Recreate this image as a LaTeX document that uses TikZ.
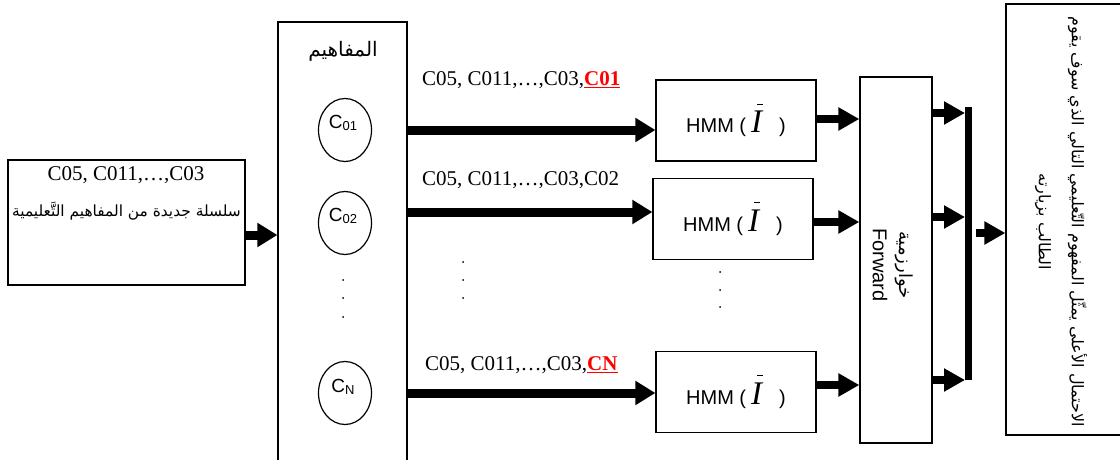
\documentclass[tikz,border=0pt]{standalone}
\usepackage{fontspec}
\setmainfont{Liberation Serif}
\newfontfamily\arial{Liberation Sans}
\newfontfamily\arabicfont[Script=Arabic]{DejaVu Sans}
\TeXXeTstate=1
\usetikzlibrary{arrows.meta,shapes.geometric}
\newcommand{\Ibar}{\makebox[0pt][l]{\hspace{6pt}\rule[28pt]{6pt}{1pt}}{\fontsize{33}{33}\selectfont\itshape I}}
\newcommand{\hmmtext}{{\arial HMM (\hspace{5pt}}\Ibar{\arial\hspace{17pt})}}
\newcommand{\cl}[1]{{\arial C\raisebox{-2pt}{\fontsize{13}{13}\selectfont #1}}}
\begin{document}
\begin{tikzpicture}[x=1pt,y=-1pt,
  box/.style={draw, line width=1.2pt, inner sep=0pt},
  big/.style={line width=9pt, -{Triangle[length=20pt,width=23pt]}},
  small/.style={line width=8pt, -{Triangle[length=21pt,width=22pt]}},
  seq/.style={font=\fontsize{21}{24}\selectfont, inner sep=0pt, anchor=west},
  cpt/.style={draw, ellipse, line width=1.2pt, minimum width=53pt, minimum height=63pt, inner sep=0pt},
  hmm/.style={box, minimum width=160pt, minimum height=81pt, font=\fontsize{20}{24}\selectfont},
  ar/.style={inner sep=0pt, font=\arabicfont\fontsize{#1}{#1}\selectfont},
  dotc/.style={fill=black}
]
\useasboundingbox (0,0) rectangle (1120,460);
\clip (0,0) rectangle (1120,460);

% left box
\node[box, minimum width=237pt, minimum height=125pt] (lbox) at (126.5,222.5) {};
\node[inner sep=0pt, font=\fontsize{21}{24}\selectfont] (lseq) at (126,175) {C05, C011,…,C03};
\node[ar=15.4] (ltxt) at (126.5,211) {\beginR سلسلة جديدة من المفاهيم التَّعليمية\endR};

% concepts box
\node[box, minimum width=129pt, minimum height=450pt] (cbox) at (342.5,247) {};
\node[ar=20] (ctitle) at (343,51) {\beginR المفاهيم\endR};
\node[cpt] (c1) at (345,130) {};
\node[cpt] (c2) at (345,223) {};
\node[cpt] (cn) at (345,393) {};
\node[inner sep=0pt, font=\fontsize{19}{19}\selectfont] (c1l) at (343,123) {\cl{01}};
\node[inner sep=0pt, font=\fontsize{19}{19}\selectfont] (c2l) at (343,216) {\cl{02}};
\node[inner sep=0pt, font=\fontsize{19}{19}\selectfont] (cnl) at (343,387) {\cl{N}};
\foreach \yy in {280,298,317} \fill[dotc] (343,\yy) circle (1pt);

% sequences
\node[seq] (s1) at (422,80) {C05, C011,…,C03,{\color{red}\underline{\textbf{C01}}}};
\node[seq] (s2) at (422,180) {C05, C011,…,C03,C02};
\node[seq] (s3) at (425,365) {C05, C011,…,C03,{\color{red}\underline{\textbf{CN}}}};
\foreach \yy in {262,280,298} \fill[dotc] (463,\yy) circle (1pt);

% HMM boxes
\node[hmm] (h1) at (736,120.5) {\hmmtext};
\node[hmm] (h2) at (733,219) {\hmmtext};
\node[hmm] (h3) at (736,392) {\hmmtext};
\foreach \yy in {272,290,307} \fill[dotc] (720,\yy) circle (1pt);

% Forward box
\node[box, minimum width=72pt, minimum height=366pt] (fwd) at (896,260) {};
\node[rotate=-90, align=center, inner sep=0pt, font=\arial\fontsize{20}{27}\selectfont] (fwdt) at (893,265)
  {{\arabicfont\fontsize{18}{18}\selectfont\beginR خوارزمية\endR}\\Forward};

% right box
\node[box, minimum width=119pt, minimum height=431pt] (rbox) at (1065.5,219.5) {};
\node[rotate=-90, align=center, inner sep=0pt, font=\arabicfont\fontsize{16}{33}\selectfont] (rtxt) at (1061,222)
  {\beginR الاحتمال الأعلى يمثّل المفهوم التّعليمي التالي الذي سوف يقوم\endR\\\beginR الطالب بزيارته\endR};

% connectors
\coordinate (p0) at (245,235);
\draw[big] (p0) -- (p0 -| cbox.west);
\coordinate (q1) at (407,130);
\coordinate (q2) at (407,212);
\coordinate (q3) at (407,393);
\draw[big] (q1) -- (q1 -| h1.west);
\draw[big] (q2) -- (q2 -| h2.west);
\draw[big] (q3) -- (q3 -| h3.west);
\coordinate (o1) at (816,119);
\coordinate (o2) at (813,222);
\coordinate (o3) at (816,385);
\draw[small] (o1) -- (o1 -| fwd.west);
\draw[small] (o2) -- (o2 -| fwd.west);
\draw[small] (o3) -- (o3 -| fwd.west);
\coordinate (bt) at (968.5,107);
\coordinate (bb) at (968.5,380);
\coordinate (bl) at (965,107);
\draw[line width=7pt] (bt) -- (bb);
\coordinate (f1) at (932,113);
\coordinate (f2) at (932,217);
\coordinate (f3) at (932,380);
\draw[small] (f1) -- (f1 -| bl);
\draw[small] (f2) -- (f2 -| bl);
\draw[small] (f3) -- (f3 -| bl);
\coordinate (r0) at (976,233);
\draw[small] (r0) -- (r0 -| rbox.west);
\end{tikzpicture}
\end{document}
